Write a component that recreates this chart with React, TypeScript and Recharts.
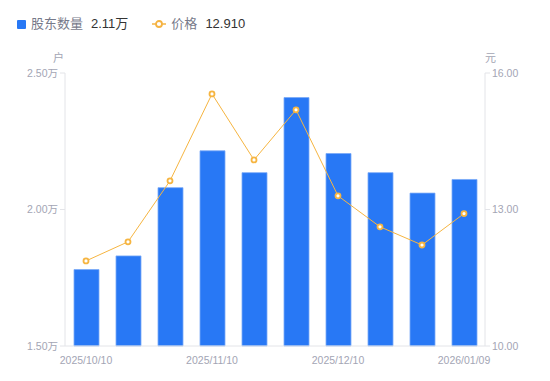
import { ComposedChart, Bar, Line, XAxis, YAxis } from 'recharts';

const dates = ['2025/10/10', '2025/10/20', '2025/10/31', '2025/11/10', '2025/11/20', '2025/11/28', '2025/12/10', '2025/12/19', '2025/12/31', '2026/01/09'];
const holders = [1.78, 1.83, 2.08, 2.215, 2.135, 2.41, 2.205, 2.135, 2.06, 2.11];
const prices = [11.87, 12.29, 13.63, 15.54, 14.09, 15.19, 13.3, 12.62, 12.22, 12.91];
const leftTicks = [1.5, 2.0, 2.5];
const rightTicks = [10, 13, 16];

const data = dates.map((d, i) => ({ date: d, holders: holders[i], price: prices[i] }));

const font = '"Liberation Sans", "Noto Sans CJK SC", sans-serif';
const axisColor = '#e3e4e8';
const tickColor = '#a3a5b4';

export default function App() {
  return (
    <div style={{ position: 'relative', width: 550, height: 381, fontFamily: font, background: '#fff' }}>
      <style>{`body{margin:0}`}</style>
      <div style={{ position: 'absolute', left: 17, top: 15, display: 'flex', alignItems: 'center', fontSize: 13, lineHeight: '18px' }}>
        <span style={{ width: 9, height: 9, background: '#2878f5', borderRadius: 1, display: 'inline-block' }} />
        <span style={{ color: '#777a8a', marginLeft: 5 }}>股东数量</span>
        <span style={{ color: '#333', marginLeft: 8 }}>2.11万</span>
        <svg width="14" height="10" style={{ marginLeft: 24 }}>
          <line x1="0" y1="5" x2="14" y2="5" stroke="#f5b342" strokeWidth="1.5" />
          <circle cx="7" cy="5" r="3" fill="#fff" stroke="#f5b342" strokeWidth="1.8" />
        </svg>
        <span style={{ color: '#777a8a', marginLeft: 5 }}>价格</span>
        <span style={{ color: '#333', marginLeft: 8 }}>12.910</span>
      </div>
      <div style={{ position: 'absolute', left: 53, top: 49, fontSize: 11, color: tickColor }}>户</div>
      <div style={{ position: 'absolute', left: 485, top: 49, fontSize: 11, color: tickColor }}>元</div>
      <ComposedChart width={550} height={381} data={data} margin={{ top: 73, right: 0, bottom: 0, left: 0 }}>
        <XAxis
          dataKey="date"
          interval={2}
          height={35}
          tickLine={false}
          axisLine={{ stroke: axisColor }}
          tick={{ fill: tickColor, fontSize: 10.5, fontFamily: font, dy: 3 }}
        />
        <YAxis
          yAxisId="left"
          width={65}
          domain={[1.5, 2.5]}
          ticks={leftTicks}
          tickFormatter={(v: number) => `${v.toFixed(2)}万`}
          axisLine={{ stroke: axisColor }}
          tickLine={{ stroke: axisColor }}
          tickSize={5}
          tick={{ fill: tickColor, fontSize: 10.5, fontFamily: font }}
        />
        <YAxis
          yAxisId="right"
          orientation="right"
          width={65}
          domain={[10, 16]}
          ticks={rightTicks}
          tickFormatter={(v: number) => v.toFixed(2)}
          axisLine={{ stroke: axisColor }}
          tickLine={{ stroke: axisColor }}
          tickSize={5}
          tick={{ fill: tickColor, fontSize: 10.5, fontFamily: font }}
        />
        <Bar yAxisId="left" dataKey="holders" fill="#2878f5" stroke="#7aa9f7" strokeWidth={0.8} barSize={25} isAnimationActive={false} />
        <Line
          yAxisId="right"
          dataKey="price"
          type="linear"
          stroke="#f6b541"
          strokeWidth={1}
          dot={{ r: 2.5, fill: '#fff', stroke: '#f6b541', strokeWidth: 1.8 }}
          isAnimationActive={false}
        />
      </ComposedChart>
    </div>
  );
}
